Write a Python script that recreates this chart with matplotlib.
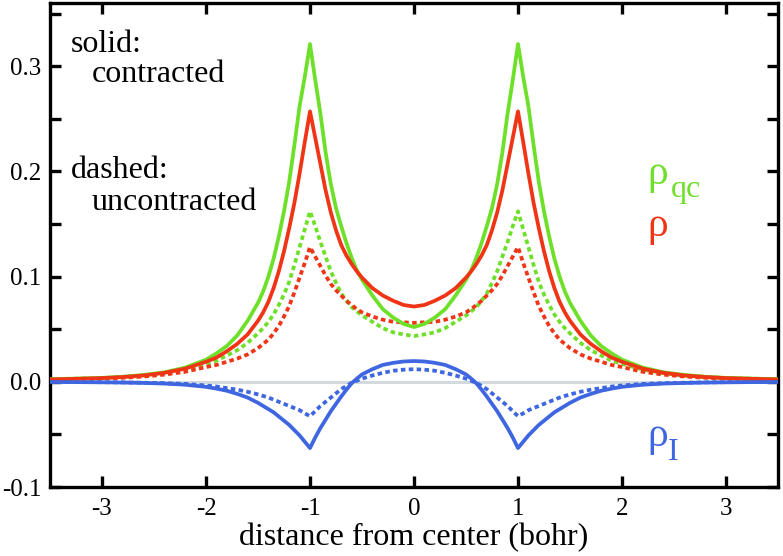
import numpy as np
import matplotlib
matplotlib.use("Agg")
import matplotlib.pyplot as plt

plt.rcParams['font.family'] = ['Liberation Serif', 'DejaVu Serif']
plt.rcParams['axes.unicode_minus'] = False

# distance from center (bohr)
x = [-3.5, -3.25, -3.0, -2.8, -2.6, -2.4, -2.2, -2.0, -1.9, -1.8, -1.7, -1.6, -1.5, -1.45, -1.4, -1.35,
     -1.3, -1.25, -1.2, -1.15, -1.1, -1.05,
     -1.0, -0.95, -0.9, -0.85, -0.8, -0.75, -0.7, -0.65, -0.6, -0.55, -0.5, -0.4, -0.3, -0.2, -0.1,
     0.0,
     0.1, 0.2, 0.3, 0.4, 0.5, 0.55, 0.6, 0.65, 0.7, 0.75, 0.8, 0.85, 0.9, 0.95, 1.0,
     1.05, 1.1, 1.15, 1.2, 1.25, 1.3, 1.35, 1.4, 1.45, 1.5, 1.6, 1.7, 1.8, 1.9, 2.0, 2.2, 2.4, 2.6,
     2.8, 3.0, 3.25, 3.5]

# rho_qc (green), solid = contracted, dashed = uncontracted
rho_qc_solid = [0.0025, 0.003, 0.0037, 0.0048, 0.0065, 0.009, 0.0135, 0.021, 0.027, 0.034, 0.044, 0.058,
                0.075, 0.086, 0.100, 0.117, 0.138, 0.162, 0.190, 0.225, 0.262, 0.290,
                0.321, 0.287, 0.255, 0.218, 0.188, 0.165, 0.148, 0.132, 0.118, 0.106, 0.097, 0.082,
                0.069, 0.061, 0.055,
                0.052,
                0.055, 0.061, 0.069, 0.082, 0.097, 0.106, 0.118, 0.132, 0.148, 0.165, 0.188, 0.218,
                0.255, 0.287, 0.321,
                0.290, 0.262, 0.225, 0.190, 0.162, 0.138, 0.117, 0.100, 0.086, 0.075, 0.058, 0.044,
                0.034, 0.027, 0.021, 0.0135, 0.009, 0.0065, 0.0048, 0.0037, 0.003, 0.0025]
rho_qc_dash = [0.0025, 0.003, 0.0036, 0.0046, 0.006, 0.0082, 0.0115, 0.017, 0.020, 0.025, 0.030, 0.037,
               0.046, 0.051, 0.057, 0.064, 0.073, 0.083, 0.095, 0.111, 0.128, 0.145,
               0.162, 0.148, 0.133, 0.119, 0.105, 0.094, 0.084, 0.077, 0.071, 0.067, 0.063, 0.057,
               0.051, 0.047, 0.045,
               0.0435,
               0.045, 0.047, 0.051, 0.057, 0.063, 0.067, 0.071, 0.077, 0.084, 0.094, 0.105, 0.119,
               0.133, 0.148, 0.162,
               0.145, 0.128, 0.111, 0.095, 0.083, 0.073, 0.064, 0.057, 0.051, 0.046, 0.037, 0.030,
               0.025, 0.020, 0.017, 0.0115, 0.0082, 0.006, 0.0046, 0.0036, 0.003, 0.0025]

# rho (red)
rho_solid = [0.0022, 0.0028, 0.0035, 0.0045, 0.006, 0.0085, 0.0125, 0.019, 0.023, 0.029, 0.036, 0.045,
             0.058, 0.066, 0.076, 0.089, 0.105, 0.124, 0.146, 0.170, 0.198, 0.228,
             0.257, 0.232, 0.207, 0.182, 0.161, 0.144, 0.130, 0.120, 0.112, 0.105, 0.099, 0.089,
             0.082, 0.077, 0.073,
             0.0715,
             0.073, 0.077, 0.082, 0.089, 0.099, 0.105, 0.112, 0.120, 0.130, 0.144, 0.161, 0.182,
             0.207, 0.232, 0.257,
             0.228, 0.198, 0.170, 0.146, 0.124, 0.105, 0.089, 0.076, 0.066, 0.058, 0.045, 0.036,
             0.029, 0.023, 0.019, 0.0125, 0.0085, 0.006, 0.0045, 0.0035, 0.0028, 0.0022]
rho_dash = [0.002, 0.0025, 0.003, 0.0038, 0.005, 0.0068, 0.0095, 0.014, 0.016, 0.019, 0.022, 0.026,
            0.032, 0.036, 0.040, 0.046, 0.053, 0.062, 0.072, 0.085, 0.099, 0.113,
            0.128, 0.119, 0.110, 0.101, 0.093, 0.087, 0.082, 0.077, 0.073, 0.069, 0.066, 0.062,
            0.059, 0.057, 0.0565,
            0.056,
            0.0565, 0.057, 0.059, 0.062, 0.066, 0.069, 0.073, 0.077, 0.082, 0.087, 0.093, 0.101,
            0.110, 0.119, 0.128,
            0.113, 0.099, 0.085, 0.072, 0.062, 0.053, 0.046, 0.040, 0.036, 0.032, 0.026, 0.022,
            0.019, 0.016, 0.014, 0.0095, 0.0068, 0.005, 0.0038, 0.003, 0.0025, 0.002]

# rho_I (blue)
rho_i_solid = [-0.0002, -0.0003, -0.0005, -0.0007, -0.0011, -0.0017, -0.0028, -0.0048, -0.0065, -0.0085,
               -0.0115, -0.015, -0.020, -0.023, -0.026, -0.029, -0.033, -0.037, -0.041, -0.046, -0.051,
               -0.057,
               -0.063, -0.053, -0.044, -0.036, -0.028, -0.021, -0.014, -0.0075, -0.0015, 0.003, 0.007,
               0.012, 0.016, 0.018, 0.0193,
               0.0197,
               0.0193, 0.018, 0.016, 0.012, 0.007, 0.003, -0.0015, -0.0075, -0.014, -0.021, -0.028,
               -0.036, -0.044, -0.053, -0.063,
               -0.057, -0.051, -0.046, -0.041, -0.037, -0.033, -0.029, -0.026, -0.023, -0.020, -0.015,
               -0.0115, -0.0085, -0.0065, -0.0048, -0.0028, -0.0017, -0.0011, -0.0007, -0.0005,
               -0.0003, -0.0002]
rho_i_dash = [-0.0002, -0.0003, -0.0004, -0.0006, -0.0009, -0.0013, -0.002, -0.0035, -0.0045, -0.006,
              -0.0075, -0.0095, -0.012, -0.0135, -0.015, -0.017, -0.019, -0.021, -0.023, -0.025, -0.027,
              -0.030,
              -0.0327, -0.028, -0.023, -0.019, -0.015, -0.011, -0.007, -0.004, -0.001, 0.001, 0.003,
              0.006, 0.0085, 0.0105, 0.0115,
              0.012,
              0.0115, 0.0105, 0.0085, 0.006, 0.003, 0.001, -0.001, -0.004, -0.007, -0.011, -0.015,
              -0.019, -0.023, -0.028, -0.0327,
              -0.030, -0.027, -0.025, -0.023, -0.021, -0.019, -0.017, -0.015, -0.0135, -0.012, -0.0095,
              -0.0075, -0.006, -0.0045, -0.0035, -0.002, -0.0013, -0.0009, -0.0006, -0.0004,
              -0.0003, -0.0002]

green = '#6ee02a'
red = '#f03416'
blue = '#3d66e0'

fig = plt.figure(figsize=(7.83, 5.56), dpi=100)
ax = fig.add_axes([50/783, 1 - 487/556, 728/783, 484/556])

ax.axhline(0.0, color='#d3dadd', lw=2.2, zorder=1)

lw = 2.7
dash = (0, (1.2, 0.9))
ax.plot(x, rho_qc_dash, color=green, lw=lw, ls=dash, dash_capstyle='butt', zorder=2)
ax.plot(x, rho_dash, color=red, lw=lw, ls=dash, dash_capstyle='butt', zorder=2)
ax.plot(x, rho_i_dash, color=blue, lw=lw, ls=dash, dash_capstyle='butt', zorder=2)
ax.plot(x, rho_qc_solid, color=green, lw=lw, zorder=3)
ax.plot(x, rho_solid, color=red, lw=lw, zorder=3)
ax.plot(x, rho_i_solid, color=blue, lw=lw, zorder=3)

ax.set_xlim(-3.5, 3.5)
ax.set_ylim(-0.1, 0.36)
ax.set_xticks([-3, -2, -1, 0, 1, 2, 3])
ax.set_xticklabels(['-3', '-2', '-1', '0', '1', '2', '3'])
ax.set_yticks([-0.1, 0.0, 0.1, 0.2, 0.3])
ax.set_yticklabels(['-0.1', '0.0', '0.1', '0.2', '0.3'])
ax.set_yticks([-0.05, 0.05, 0.15, 0.25, 0.35], minor=True)

for s in ax.spines.values():
    s.set_linewidth(2.4)
ax.tick_params(which='both', direction='in', top=True, right=True, width=2.4, length=8, labelsize=18)
ax.tick_params(axis='y', pad=6)
ax.tick_params(axis='x', pad=8)

ax.set_xlabel('distance from center (bohr)', fontsize=23, labelpad=2)

ax.text(-3.298, 0.313, 'solid:', fontsize=23, va='baseline')
ax.text(-3.096, 0.2845, 'contracted', fontsize=23, va='baseline')
ax.text(-3.298, 0.194, 'dashed:', fontsize=23, va='baseline')
ax.text(-3.096, 0.1635, 'uncontracted', fontsize=23, va='baseline')

# curve labels
ax.text(2.24, 0.188, 'ρ', fontsize=30, color=green, va='baseline')
ax.text(2.47, 0.176, 'qc', fontsize=23, color=green, va='baseline')
ax.text(2.24, 0.139, 'ρ', fontsize=30, color=red, va='baseline')
ax.text(2.24, -0.061, 'ρ', fontsize=30, color=blue, va='baseline')
ax.text(2.44, -0.0747, 'I', fontsize=23, color=blue, va='baseline')

fig.savefig('out.png', dpi=100)
